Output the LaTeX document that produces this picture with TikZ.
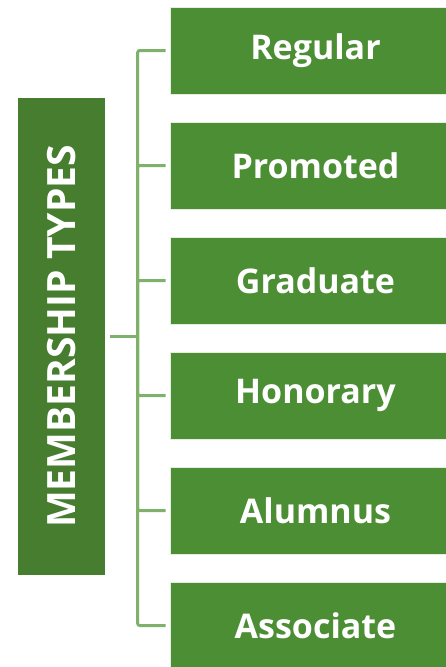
\documentclass[tikz,border=0pt]{standalone}
\usepackage{fontspec}
\setmainfont{Open Sans}
\usetikzlibrary{positioning}
\definecolor{headgreen}{HTML}{467D2E}
\definecolor{itemgreen}{HTML}{4B8E34}
\definecolor{linkgreen}{HTML}{7EB26B}
\tikzset{
  head/.style={rectangle, fill=headgreen, minimum width=477pt, minimum height=87pt, inner sep=0pt, text=white, font=\fontsize{39}{45}\selectfont\bfseries, rotate=90},
  item/.style={rectangle, draw=white!85!itemgreen, line width=0.6pt, fill=itemgreen, minimum width=276pt, minimum height=87pt, inner sep=0pt, text=white, font=\fontsize{34}{40}\selectfont\bfseries, execute at begin node=\hspace*{15pt}},
  link/.style={draw=linkgreen, line width=3pt, rounded corners=2pt}
}

\begin{document}
\begin{tikzpicture}[x=1pt, y=-1pt, node distance=27.4pt]
  \useasboundingbox (0,0) rectangle (446,667);
  % Nodes
  \node[head] (types) at (61.5,336.5) {MEMBERSHIP TYPES};
  \node[item] (regular) at (308,50.5) {Regular};
  \node[item, below=of regular] (promoted) {Promoted};
  \node[item, below=of promoted] (graduate) {Graduate};
  \node[item, below=of graduate] (honorary) {Honorary};
  \node[item, below=of honorary] (alumnus) {Alumnus};
  \node[item, below=of alumnus] (associate) {Associate};
  \coordinate (trunk) at ([xshift=32.5pt]types.south);

  % Connections
  \draw[link, shorten <=5pt] (types.south) -- (trunk);
  \foreach \m in {regular, promoted, graduate, honorary, alumnus, associate}
    \draw[link, shorten >=4pt] (trunk) |- (\m.west);
\end{tikzpicture}
\end{document}
